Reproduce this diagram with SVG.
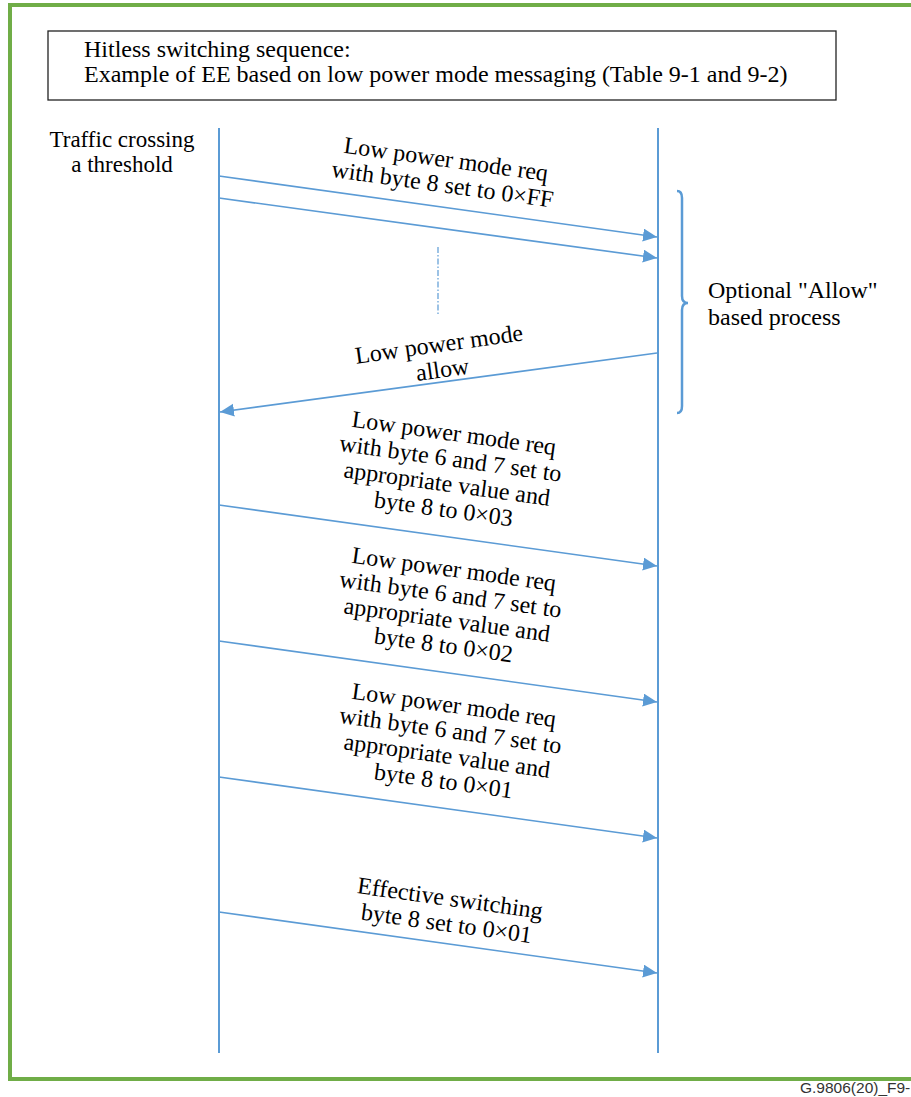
<svg xmlns="http://www.w3.org/2000/svg" width="911" height="1097" viewBox="0 0 911 1097">
<style>
.t{font-family:"Liberation Serif","Times New Roman",serif;font-size:24px;fill:#000;}
.m{text-anchor:middle;}
.life{stroke:#5B9BD5;stroke-width:2;fill:none;}
.msg{stroke:#5B9BD5;stroke-width:1.6;fill:none;marker-end:url(#ah);}
</style>
<defs>
<marker id="ah" markerUnits="userSpaceOnUse" markerWidth="16" markerHeight="14" refX="14" refY="6.5" orient="auto">
<path d="M0,0 L14,6.5 L0,13 z" fill="#5B9BD5"/>
</marker>
</defs>
<rect x="0" y="0" width="911" height="1097" fill="#fff"/>
<rect x="10" y="5" width="920" height="1074" fill="none" stroke="#70AD47" stroke-width="4"/>
<g id="title">
<rect x="48" y="31" width="788" height="69" fill="#fff" stroke="#222" stroke-width="1.3"/>
<text class="t" x="84" y="57">Hitless switching sequence:</text>
<text class="t" x="84" y="82">Example of EE based on low power mode messaging (Table 9-1 and 9-2)</text>
</g>
<g id="traffic">
<text class="t m" x="122" y="147" style="font-size:23px">Traffic crossing</text>
<text class="t m" x="122" y="172" style="font-size:23px">a threshold</text>
</g>
<g id="lifelines">
<line class="life" x1="219" y1="128" x2="219" y2="1053"/>
<line class="life" x1="658" y1="128" x2="658" y2="1053"/>
</g>
<g id="connectors">
<line class="msg" x1="219" y1="176" x2="657" y2="237"/>
<line class="msg" x1="219" y1="198" x2="657" y2="258"/>
<line x1="438" y1="247" x2="438" y2="315" stroke="#5B9BD5" stroke-width="1.2" stroke-dasharray="6 2 1.5 2"/>
<line class="msg" x1="657" y1="353" x2="220" y2="412"/>
<line class="msg" x1="219" y1="505" x2="657" y2="566"/>
<line class="msg" x1="219" y1="641" x2="657" y2="702"/>
<line class="msg" x1="219" y1="777" x2="657" y2="838"/>
<line class="msg" x1="219" y1="912" x2="657" y2="973"/>
</g>
<g id="label1" transform="translate(445,167) rotate(7.93)">
<text class="t m" x="0" y="0">Low power mode req</text>
<text class="t m" x="0" y="25.5">with byte 8 set to 0×FF</text>
</g>
<g id="label-allow" transform="translate(440,352) rotate(-7.93)">
<text class="t m" x="0" y="0">Low power mode</text>
<text class="t m" x="0" y="25.5">allow</text>
</g>
<g id="label3" transform="translate(453,441) rotate(7.93)">
<text class="t m" x="0" y="0">Low power mode req</text>
<text class="t m" x="0" y="25.5">with byte 6 and 7 set to</text>
<text class="t m" x="0" y="51">appropriate value and</text>
<text class="t m" x="0" y="76.5">byte 8 to 0×03</text>
</g>
<g id="label4" transform="translate(453,577) rotate(7.93)">
<text class="t m" x="0" y="0">Low power mode req</text>
<text class="t m" x="0" y="25.5">with byte 6 and 7 set to</text>
<text class="t m" x="0" y="51">appropriate value and</text>
<text class="t m" x="0" y="76.5">byte 8 to 0×02</text>
</g>
<g id="label5" transform="translate(453,713) rotate(7.93)">
<text class="t m" x="0" y="0">Low power mode req</text>
<text class="t m" x="0" y="25.5">with byte 6 and 7 set to</text>
<text class="t m" x="0" y="51">appropriate value and</text>
<text class="t m" x="0" y="76.5">byte 8 to 0×01</text>
</g>
<g id="label-switch" transform="translate(449,906) rotate(7.93)">
<text class="t m" x="0" y="0">Effective switching</text>
<text class="t m" x="0" y="25.5">byte 8 set to 0×01</text>
</g>
<g id="brace">
<path d="M677,191 Q682,191 682,198 L682,296 Q682,303 688,303 Q682,303 682,310 L682,406 Q682,413 677,413" fill="none" stroke="#5B9BD5" stroke-width="2.5"/>
<text class="t" x="708" y="298">Optional "Allow"</text>
<text class="t" x="708" y="325">based process</text>
</g>
<text x="800" y="1093" style="font-family:'Liberation Sans',Arial,sans-serif;font-size:15.5px;fill:#333">G.9806(20)_F9-</text>
</svg>
